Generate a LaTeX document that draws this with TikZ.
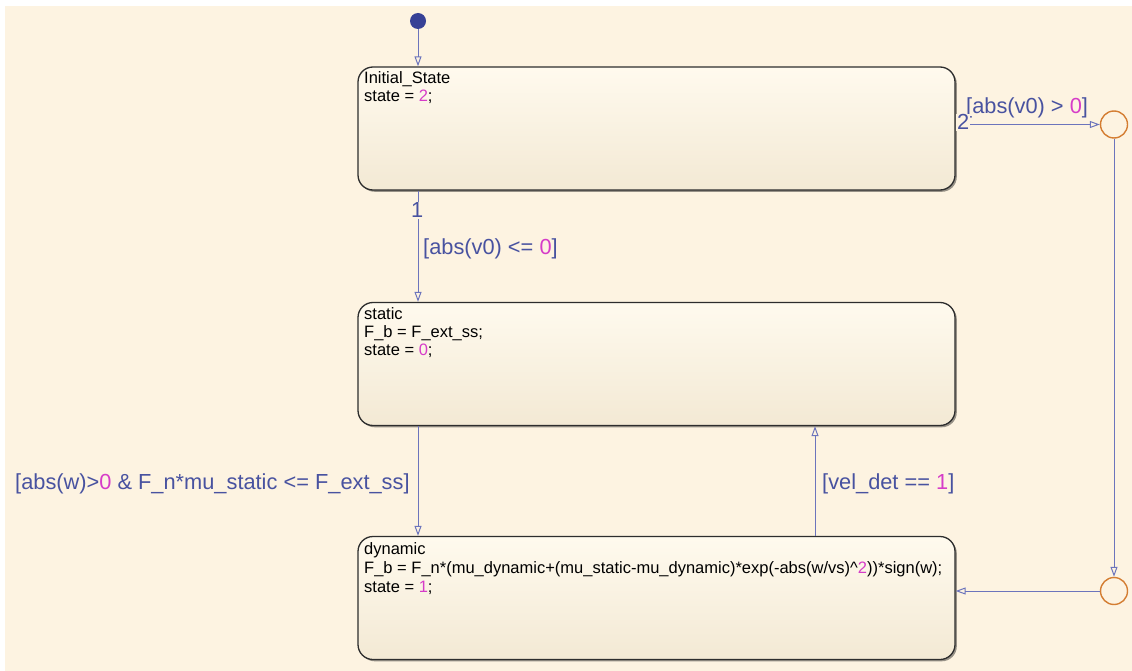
\documentclass[tikz,border=0pt]{standalone}
\usepackage{fontspec}
\setmainfont{Liberation Sans}
\usetikzlibrary{arrows.meta,shadows,calc}
\definecolor{bg}{RGB}{253,243,225}
\definecolor{boxtop}{RGB}{255,250,238}
\definecolor{boxbot}{RGB}{243,233,212}
\definecolor{boxborder}{RGB}{45,45,45}
\definecolor{transblue}{RGB}{108,116,188}
\definecolor{labelblue}{RGB}{72,82,160}
\definecolor{pinkc}{RGB}{214,60,200}
\definecolor{juncorange}{RGB}{212,125,50}
\definecolor{dotblue}{RGB}{55,65,150}
\begin{document}
\begin{tikzpicture}[x=1pt,y=-1pt,
  statebox/.style={draw=boxborder, line width=1.3pt, rounded corners=15pt,
    top color=boxtop, bottom color=boxbot, minimum width=597pt, minimum height=123pt,
    inner sep=0pt, drop shadow={shadow xshift=1.8pt, shadow yshift=-1.8pt, opacity=0.4, fill=black}},
  trans/.style={draw=transblue, line width=1pt, -{Triangle[open,length=10pt,width=7pt]}},
  lbl/.style={text=labelblue, font=\fontsize{21.8}{24}\selectfont, inner sep=0pt, anchor=base west},
  code/.style={font=\fontsize{16.5}{19}\selectfont, inner sep=0pt, anchor=base west},
  junction/.style={circle, draw=juncorange, line width=1.4pt, minimum size=27pt, inner sep=0pt}]
\useasboundingbox (0,0) rectangle (1132,671);
\fill[white] (0,0) rectangle (1132,671);
\fill[bg] (5,6) rectangle (1132,671);

\node[fill=dotblue, circle, minimum size=16pt, inner sep=0pt] (init) at (418,21) {};
\node[statebox] (s0) at (656.5,128.5) {};
\node[statebox] (s1) at (656.5,364) {};
\node[statebox] (s2) at (656.5,598) {};
\node[junction] (j1) at (1114,124.5) {};
\node[junction] (j2) at (1114,591) {};
\coordinate (vx) at (815,0);

\draw[trans] (init) -- (init |- s0.north);
\draw[trans] (init |- s0.south) -- (init |- s1.north);
\draw[trans] (s0.east |- j1) -- (j1.west);
\draw[trans] (j1.south) -- (j2.north);
\draw[trans] (j2.west) -- (s2.east |- j2);
\draw[trans] (init |- s1.south) -- (init |- s2.north);
\draw[trans] (vx |- s2.north) -- (vx |- s1.south);

\node[lbl, fill=bg, inner sep=1pt] (n1) at (410,218) {1};
\node[lbl] (g1) at (423,254) {[abs(v0) <= \textcolor{pinkc}{0}]};
\node[lbl] (g2) at (966,114) {[abs(v0) > \textcolor{pinkc}{0}]};
\node[lbl, fill=bg, inner sep=1pt] (n2) at (956,130) {2};
\node[lbl] (g3) at (15,489) {[abs(w)>\textcolor{pinkc}{0} \& F\_n*mu\_static <= F\_ext\_ss]};
\node[lbl] (g4) at (822,489) {[vel\_det == \textcolor{pinkc}{1}]};

\node[code] (c01) at (364,84) {Initial\_State};
\node[code] (c02) at (364,102) {state = \textcolor{pinkc}{2};};
\node[code] (c11) at (364,319) {static};
\node[code] (c12) at (364,337) {F\_b = F\_ext\_ss;};
\node[code] (c13) at (364,355) {state = \textcolor{pinkc}{0};};
\node[code] (c21) at (364,554) {dynamic};
\node[code] (c22) at (364,573) {F\_b = F\_n*(mu\_dynamic+(mu\_static-mu\_dynamic)*exp(-abs(w/vs)\^{}\textcolor{pinkc}{2}))*sign(w);};
\node[code] (c23) at (364,592) {state = \textcolor{pinkc}{1};};
\end{tikzpicture}
\end{document}
